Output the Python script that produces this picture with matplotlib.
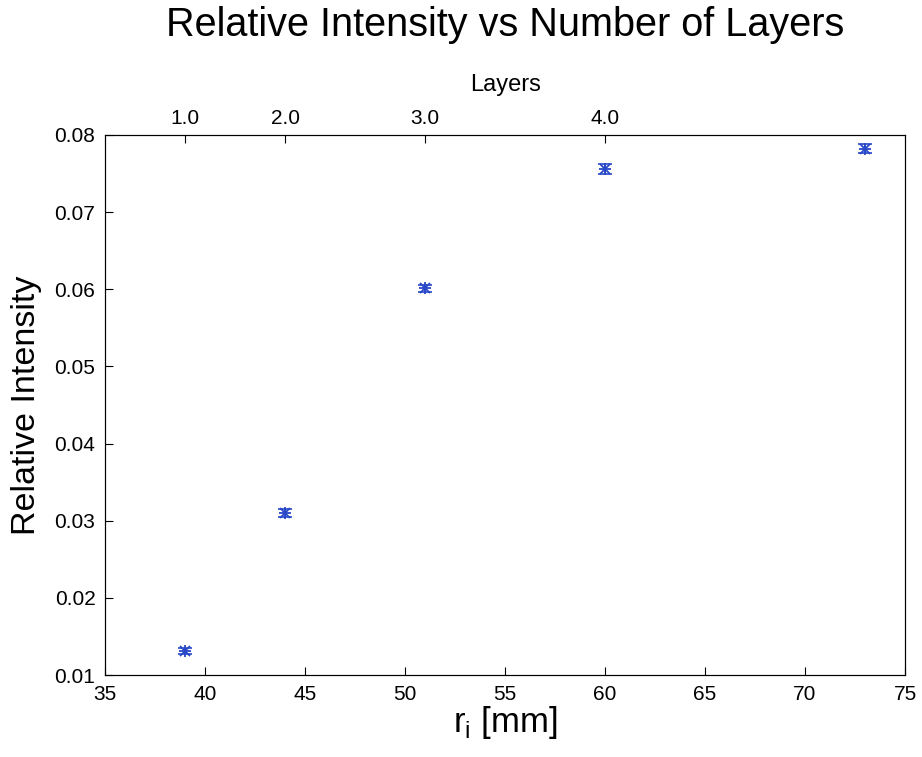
import matplotlib
matplotlib.use('Agg')
import matplotlib.pyplot as plt

plt.rcParams['font.family'] = ['Liberation Sans', 'DejaVu Sans']
plt.rcParams['mathtext.fontset'] = 'custom'
plt.rcParams['mathtext.rm'] = 'Liberation Sans'

# 数据
r_i = [39, 44, 51, 60, 73]
intensity = [0.0131, 0.0310, 0.0601, 0.0756, 0.0782]
err = [0.0004, 0.0005, 0.0005, 0.0006, 0.0006]
layer_pos = [39, 44, 51, 60]
layer_labels = ['1.0', '2.0', '3.0', '4.0']
x_ticks = [35, 40, 45, 50, 55, 60, 65, 70, 75]
y_ticks = [0.01, 0.02, 0.03, 0.04, 0.05, 0.06, 0.07, 0.08]

blue = '#2848c8'
fig = plt.figure(figsize=(9.22, 7.57), dpi=100)
ax = fig.add_axes([0.114, 0.1083, 0.8676, 0.7134])

ax.errorbar(r_i, intensity, yerr=err, fmt='none', ecolor=blue,
            capsize=5, elinewidth=1.2, capthick=1.2)
# MATLAB 风格的星号 = '+' 加 'x'
ax.plot(r_i, intensity, '+', color=blue, markersize=9, mew=1.3)
ax.plot(r_i, intensity, 'x', color=blue, markersize=7, mew=1.3)

ax.set_xlim(35, 75)
ax.set_ylim(0.01, 0.08)
ax.set_xticks(x_ticks)
ax.set_yticks(y_ticks)
ax.set_yticklabels([f'{v:.2f}' for v in y_ticks])
ax.tick_params(direction='in', labelsize=15, length=6, pad=7)
ax.set_xlabel(r'r$_\mathregular{i}$ [mm]', fontsize=25, labelpad=0)
ax.set_ylabel('Relative Intensity', fontsize=24.5, labelpad=9)

top = ax.twiny()
top.set_xlim(ax.get_xlim())
top.set_xticks(layer_pos)
top.set_xticklabels(layer_labels)
top.tick_params(direction='in', labelsize=15, length=6, pad=5)
top.set_xlabel('Layers', fontsize=17, labelpad=13)

fig.text(0.548, 0.967, 'Relative Intensity vs Number of Layers',
         fontsize=28.5, ha='center', va='center')

fig.savefig('out.png', dpi=100)
